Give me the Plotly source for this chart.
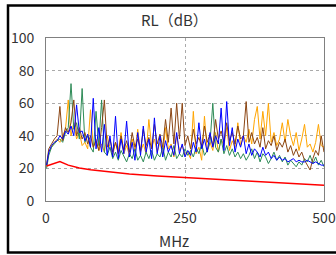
import plotly.graph_objects as go

FREQ_MHZ = [1, 5, 10, 15, 20, 25, 30, 35, 40, 45, 50, 55, 60, 65, 70, 75, 80, 85, 90, 95,
            100, 105, 110, 115, 120, 125, 130, 135, 140, 145, 150, 155, 160, 165, 170, 175, 180, 185, 190, 195,
            200, 205, 210, 215, 220, 225, 230, 235, 240, 245, 250, 255, 260, 265, 270, 275, 280, 285, 290, 295,
            300, 305, 310, 315, 320, 325, 330, 335, 340, 345, 350, 355, 360, 365, 370, 375, 380, 385, 390, 395,
            400, 405, 410, 415, 420, 425, 430, 435, 440, 445, 450, 455, 460, 465, 470, 475, 480, 485, 490, 495, 500]

RL_ORANGE = [21, 30, 33, 36, 38, 36, 40, 44, 62, 40, 48, 38, 42, 34, 36, 32, 56, 33, 38, 31,
             35, 30, 40, 33, 28, 36, 30, 42, 29, 34, 28, 38, 31, 44, 30, 35, 29, 50, 33, 38,
             30, 36, 28, 45, 32, 35, 27, 40, 31, 34, 28, 30, 26, 55, 29, 33, 25, 52, 30, 36,
             31, 42, 30, 38, 34, 45, 31, 37, 33, 48, 34, 40, 36, 44, 35, 50, 58, 38, 55, 40,
             60, 36, 42, 34, 38, 48, 36, 50, 40, 34, 42, 31, 38, 47, 33, 35, 30, 36, 47, 34, 33]

RL_GREEN = [20, 28, 33, 35, 37, 38, 36, 42, 45, 72, 44, 48, 38, 69, 36, 40, 33, 30, 55, 34,
            62, 30, 28, 33, 26, 30, 25, 31, 27, 24, 29, 26, 32, 25, 28, 24, 30, 26, 31, 25,
            29, 27, 33, 25, 30, 27, 34, 26, 29, 27, 32, 28, 31, 27, 33, 29, 35, 28, 31, 36,
            60, 33, 30, 38, 29, 34, 28, 32, 27, 30, 26, 29, 25, 28, 32, 26, 30, 24, 29, 27,
            23, 26, 30, 25, 28, 24, 27, 22, 25, 23, 21, 24, 22, 26, 24, 28, 23, 27, 22, 25, 21]

RL_BLUE = [22, 30, 34, 36, 37, 40, 38, 43, 41, 46, 40, 59, 42, 43, 37, 41, 33, 63, 32, 45,
           30, 47, 28, 40, 27, 52, 26, 38, 29, 49, 27, 36, 25, 42, 28, 46, 30, 38, 26, 51,
           29, 40, 27, 37, 30, 34, 28, 42, 29, 35, 27, 31, 28, 36, 30, 48, 32, 38, 30, 42,
           33, 40, 35, 57, 31, 61, 34, 45, 30, 38, 33, 40, 29, 35, 28, 32, 30, 27, 33, 28,
           30, 26, 28, 25, 27, 25, 26, 24, 25, 26, 24, 25, 24, 24, 25, 24, 23, 24, 23, 22, 22]

RL_BROWN = [22, 32, 35, 38, 40, 58, 37, 45, 42, 48, 62, 40, 45, 38, 42, 35, 40, 33, 37, 31,
            45, 62, 33, 38, 30, 36, 29, 40, 31, 37, 30, 42, 33, 38, 31, 44, 34, 39, 32, 47,
            35, 41, 33, 50, 36, 57, 35, 60, 38, 60, 34, 40, 32, 44, 35, 39, 33, 46, 36, 41,
            34, 50, 38, 43, 36, 48, 37, 42, 35, 46, 38, 40, 61, 36, 42, 35, 39, 33, 45, 32,
            37, 34, 40, 31, 36, 33, 38, 30, 34, 28, 32, 27, 30, 25, 22, 19, 26, 31, 28, 40, 30]

LIMIT_FREQ = [1, 10, 20, 25, 40, 60, 80, 100, 150, 200, 250, 300, 350, 400, 450, 500]
LIMIT_RL = [21.5, 22.6, 23.8, 24.2, 22.0, 20.3, 19.2, 18.4, 16.6, 15.4, 14.4, 13.2, 12.2, 11.3, 10.4, 9.6]

SERIES = [
    ("orange", RL_ORANGE, "#FFA500"),
    ("green", RL_GREEN, "#2E8B57"),
    ("brown", RL_BROWN, "#8B4513"),
    ("blue", RL_BLUE, "#0000FF"),
]

fig = go.Figure()
for name, vals, color in SERIES:
    fig.add_trace(go.Scatter(x=FREQ_MHZ, y=vals, mode="lines", name=name,
                             line=dict(color=color, width=1)))
fig.add_trace(go.Scatter(x=LIMIT_FREQ, y=LIMIT_RL, mode="lines", name="limit",
                         line=dict(color="#FF0000", width=1.5)))

FONT = "Noto Sans CJK JP"
L, R, T, B = 46, 12, 38, 54
W, H = 336, 255
pw, ph = W - L - R, H - T - B

def px(x):
    return (x - L) / pw

def py(y):
    return (H - B - y) / ph

fig.update_layout(
    width=W, height=H,
    margin=dict(l=L, r=R, t=T, b=B, pad=0),
    paper_bgcolor="white", plot_bgcolor="white",
    showlegend=False,
    font=dict(family=FONT, size=14, color="#333333"),
    xaxis=dict(range=[0, 500], tickvals=[0, 250, 500], showline=True, mirror=True,
               linecolor="#808080", linewidth=1, showgrid=True, gridcolor="#AAAAAA",
               griddash="dot", gridwidth=1, zeroline=False, ticks="", ticklabelstandoff=4,
               automargin=False,
               tickfont=dict(size=14, family=FONT, color="#333333")),
    yaxis=dict(range=[0, 100], tickvals=[0, 20, 40, 60, 80, 100], showline=True, mirror=True,
               linecolor="#808080", linewidth=1, showgrid=True, gridcolor="#AAAAAA",
               griddash="dot", gridwidth=1, zeroline=False, ticks="", ticklabelstandoff=8,
               automargin=False,
               tickfont=dict(size=14, family=FONT, color="#333333")),
    annotations=[
        dict(text="RL（dB）", x=px(174), y=py(20), xref="paper", yref="paper",
             xanchor="center", yanchor="middle", showarrow=False,
             font=dict(size=15, family=FONT, color="#333333")),
        dict(text="MHz", x=px(174), y=py(240), xref="paper", yref="paper",
             xanchor="center", yanchor="middle", showarrow=False,
             font=dict(size=15, family=FONT, color="#333333")),
    ],
    shapes=[
        dict(type="rect", xref="paper", yref="paper", x0=px(8), x1=px(350),
             y0=py(252.5), y1=py(5.5), line=dict(color="black", width=2.5),
             fillcolor="rgba(0,0,0,0)", layer="above"),
    ],
)

fig.write_html("out.html", config={"displayModeBar": False},
               post_script="document.body.style.margin='0';document.body.style.overflow='hidden';")
